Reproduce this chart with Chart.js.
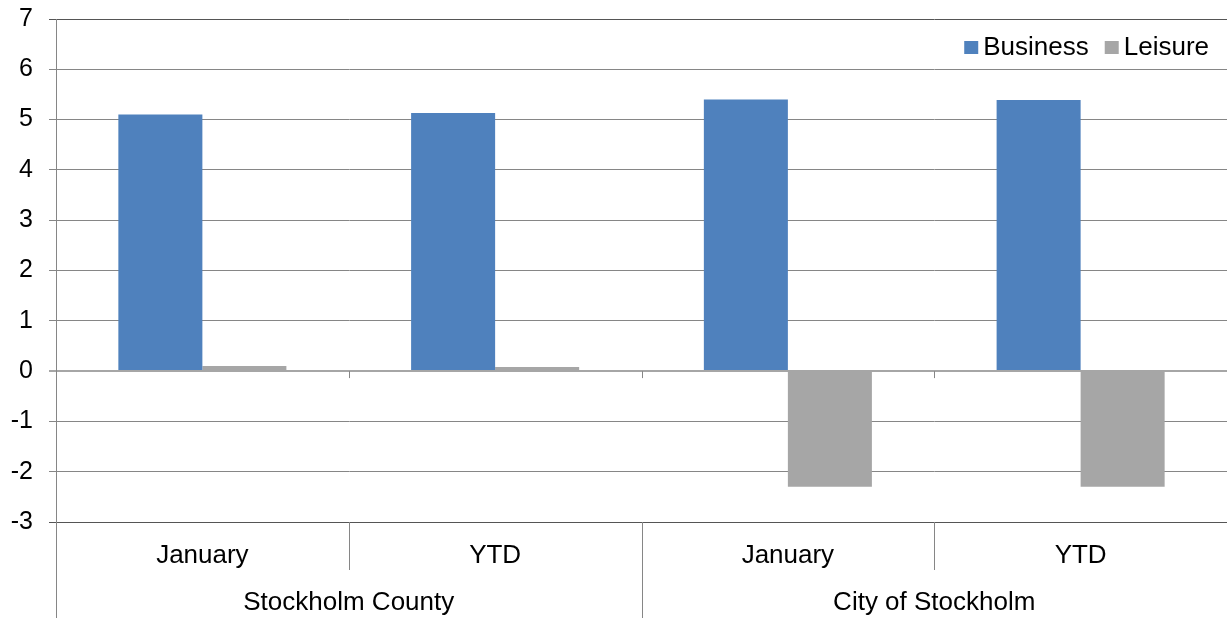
<!DOCTYPE html>
<html>
<head>
<meta charset="utf-8">
<script src="https://cdn.jsdelivr.net/npm/chart.js@4"></script>
<style>
  html, body { margin: 0; padding: 0; background: #fff; }
  #wrap { width: 1227px; height: 618px; }
</style>
</head>
<body>
<div id="wrap"><canvas id="chart" width="1227" height="618"></canvas></div>
<script>
const categories = ['January', 'YTD', 'January', 'YTD'];
const groups = ['Stockholm County', 'City of Stockholm'];
const business = [5.1, 5.13, 5.4, 5.39];
const leisure = [0.1, 0.08, -2.3, -2.3];

const FONT = "'Liberation Sans', Arial, sans-serif";

// second-level labels, separators, zero-line ticks and the legend
const groupAxis = {
  id: 'groupAxis',
  afterDraw(chart) {
    const { ctx, scales: { x, y }, chartArea } = chart;
    const step = x.getPixelForValue(1) - x.getPixelForValue(0);
    const zero = y.getPixelForValue(0);
    const h = chart.height;
    ctx.save();
    ctx.strokeStyle = '#868686';
    ctx.lineWidth = 1;
    ctx.beginPath();
    ctx.moveTo(chartArea.left + 0.5, chartArea.bottom);
    ctx.lineTo(chartArea.left + 0.5, h);
    ctx.stroke();
    for (let i = 1; i < categories.length; i++) {
      const px = Math.round(x.getPixelForValue(i) - step / 2) + 0.5;
      const isGroup = i % 2 === 0;
      ctx.beginPath();
      ctx.moveTo(px, chartArea.bottom);
      ctx.lineTo(px, isGroup ? h : chartArea.bottom + 48);
      ctx.moveTo(px, zero);
      ctx.lineTo(px, zero + 7);
      ctx.stroke();
    }
    ctx.fillStyle = '#000';
    ctx.font = '26px ' + FONT;
    ctx.textAlign = 'center';
    ctx.textBaseline = 'middle';
    groups.forEach((g, i) => {
      const cx = (x.getPixelForValue(i * 2) + x.getPixelForValue(i * 2 + 1)) / 2;
      ctx.fillText(g, cx, chartArea.bottom + 81);
    });

    // legend, top right inside the plot
    const items = chart.data.datasets.map(d => ({ text: d.label, color: d.backgroundColor }));
    ctx.textAlign = 'left';
    let lx = chartArea.right - 18;
    const ly = chartArea.top + 29;
    for (let i = items.length - 1; i >= 0; i--) {
      const w = ctx.measureText(items[i].text).width;
      lx -= w;
      ctx.fillStyle = '#000';
      ctx.fillText(items[i].text, lx, ly);
      lx -= 19;
      ctx.fillStyle = items[i].color;
      ctx.fillRect(lx, ly - 7, 14, 13);
      lx -= 16;
    }
    ctx.restore();
  }
};

new Chart(document.getElementById('chart'), {
  type: 'bar',
  data: {
    labels: categories,
    datasets: [
      { label: 'Business', data: business, backgroundColor: '#4F81BD' },
      { label: 'Leisure', data: leisure, backgroundColor: '#A6A6A6' }
    ]
  },
  options: {
    responsive: false,
    animation: false,
    categoryPercentage: 0.574,
    barPercentage: 1,
    layout: { padding: { top: 19, right: 0, left: 0, bottom: 0 } },
    plugins: {
      tooltip: { enabled: false },
      legend: { display: false }
    },
    scales: {
      x: {
        grid: { display: false },
        border: { display: false },
        ticks: {
          color: '#000',
          padding: 10,
          font: { size: 26, family: FONT }
        },
        afterFit(scale) { scale.height = 96; }
      },
      y: {
        min: -3,
        max: 7,
        ticks: {
          stepSize: 1,
          color: '#000',
          padding: 16,
          font: { size: 25, family: FONT }
        },
        grid: {
          tickLength: 7,
          color: c => c.tick && c.tick.value === 0 ? '#A6A6A6' : (c.tick && (c.tick.value === -3 || c.tick.value === 7) ? '#555555' : '#868686'),
          lineWidth: c => c.tick && c.tick.value === 0 ? 2 : 1
        },
        border: { color: '#868686' },
        afterFit(scale) {
          scale.width = 56;
          scale.paddingTop = 0;
          scale.paddingBottom = 0;
        }
      }
    }
  },
  plugins: [groupAxis]
});
</script>
</body>
</html>
